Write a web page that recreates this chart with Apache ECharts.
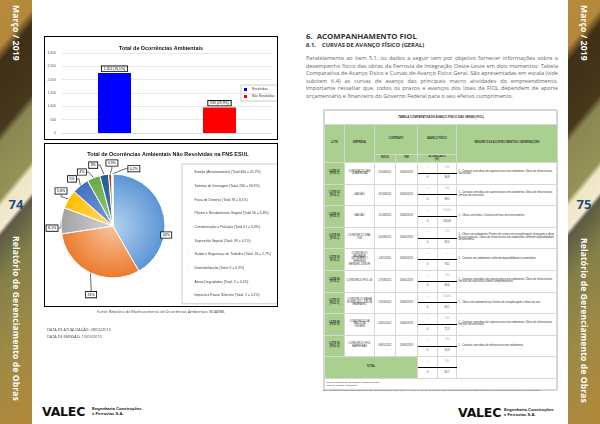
<!DOCTYPE html>
<html><head><meta charset="utf-8">
<script src="https://cdn.jsdelivr.net/npm/echarts@6/dist/echarts.min.js"></script>
<style>
*{box-sizing:border-box;margin:0;padding:0}
html,body{width:600px;height:424px;overflow:hidden;background:#fff;font-family:"Open Sans","Liberation Sans",sans-serif;position:relative}
.abs{position:absolute}
.side{position:absolute;top:0;width:32px;height:424px;overflow:hidden;
 background:linear-gradient(130deg,#b98c3c 0px,#b3883a 30px,#3e2f16 40px,#47381b 85px,#8b8752 92px,#969358 128px,#efe6c6 133px,#f3ead0 148px,#5d5b44 152px,#6b6a45 164px,#858048 182px,#9c8a45 230px,#b3893a 297px)}
.side .vt{position:absolute;left:0;width:32px;writing-mode:vertical-rl;color:#fff;font-weight:bold;font-size:8.6px;display:flex;align-items:center;justify-content:flex-start;letter-spacing:0.1px}
.side .num{position:absolute;left:0;width:32px;text-align:center;color:#1f4e79;font-weight:bold;font-size:13px;font-family:"Open Sans",sans-serif}
.box{position:absolute;border:1.3px solid #000;pointer-events:none}
.tiny{font-size:3.8px;color:#444;line-height:1}
.valec{position:absolute;font-family:"DejaVu Sans","Liberation Sans",sans-serif;font-weight:900;font-size:12.5px;letter-spacing:-0.2px;color:#111;line-height:1}
.valsub{position:absolute;font-family:"Liberation Sans",sans-serif;font-weight:bold;font-size:4.2px;color:#111;line-height:4.6px}
h1{position:absolute;font-size:7.8px;font-weight:bold;color:#333;line-height:1}
h2{position:absolute;font-size:5.8px;font-weight:bold;color:#333;line-height:1}
.para{position:absolute;left:306px;top:55px;width:252px;font-size:5.6px;line-height:7.6px;color:#666;text-align:justify}
table{border-collapse:collapse;table-layout:fixed;font-size:2.6px;line-height:1;color:#333;font-family:"Liberation Sans",sans-serif}
td{border:0.5px solid #d6d6d6;text-align:center;vertical-align:middle;padding:0 0.5px;overflow:hidden}
.g{background:#a9d08e;font-weight:bold}
.top{border-bottom:1.4px solid #000;color:#aaa}
.ob{text-align:left;padding-left:1.5px}
</style></head>
<body>
<script>
// ---------- chart data ----------
const barTitle = 'Total de Ocorrências Ambientais';
const barCategories = ['Resolvidas', 'Não Resolvidas'];
const barValues = [2252, 959];
const barLabels = ['2.252 (70,1%)', '959 (29,9%)'];
const barColors = ['#0000ff', '#ff0000'];
const yTicks = [0, 500, 1000, 1500, 2000, 2500, 3000];

const pieTitle = 'Total de Ocorrências Ambientais Não Resolvidas na FNS ESUL';
const pieNames = ['Erosão (Assoreamento)', 'Sistema de Drenagem', 'Faixa de Domínio', 'Plantio e Recobrimento Vegetal', 'Contaminação e Poluição', 'Supressão Vegetal', 'Saúde e Segurança do Trabalho', 'Desmobilização', 'Áreas Degradadas', 'Impacto à Fauna Silvestre'];
const pieValues = [400, 296, 78, 56, 51, 39, 26, 9, 2, 2];
const pieLegend = ['Erosão (Assoreamento) (Total 400 = 41,7%)', 'Sistema de Drenagem (Total: 296 = 30,9%)', 'Faixa de Domínio (Total 78 = 8,1%)', 'Plantio e Recobrimento Vegetal (Total 56 = 5,8%)', 'Contaminação e Poluição (Total 51 = 5,3%)', 'Supressão Vegetal (Total: 39 = 4,1%)', 'Saúde e Segurança do Trabalho (Total: 26 = 2,7%)', 'Desmobilização (Total: 9 = 0,9%)', 'Áreas Degradadas (Total: 2 = 0,2%)', 'Impacto à Fauna Silvestre (Total: 2 = 0,2%)'];
const pieLabels = ['42%', '31%', '8,1%', '5,8%', '5%', '4%', '3%', '0,9%', '0,2%', ''];
const pieLight = ['#b4d2f0', '#f8c49c', '#d4d4d4', '#ffdb73', '#7d9be0', '#96c978', '#4f82b8', '#c8743a', '#888888', '#c9a227'];
const pieDark = ['#5b95d5', '#ec7a2e', '#a2a2a2', '#ffbf00', '#4570c2', '#6aa944', '#245c90', '#9e480e', '#636363', '#997300'];

// ---------- table data (page 75) ----------
const tLotes = ['LOTE 01<br>(FIOL I)', 'LOTE 02<br>(FIOL I)', 'LOTE 03<br>(FIOL I)', 'LOTE 04<br>(FIOL I)', 'LOTE 05<br>(FIOL I)', 'LOTE 06<br>(FIOL I)', 'LOTE 07<br>(FIOL II)', 'LOTE 08<br>(FIOL II)', 'LOTE 09<br>(FIOL II)'];
const tEmpresas = ['CONSÓRCIO OAS<br>GUARIROBA', 'GALVÃO', 'GALVÃO', 'CONSÓRCIO SPA / TGS', 'CONSÓRCIO ANDRADE<br>GUTIERREZ / SERVENG<br>MENDES JÚNIOR', 'CONSÓRCIO FIOL 06', 'CONSÓRCIO BAHIA<br>NORTE-SUL / DELTA<br>EMBRATEC', 'CONSÓRCIO SA PAULISTA<br>/ FIDENS', 'CONSÓRCIO FIOL<br>BARREIRAS'];
const tInicio = ['05/09/2011', '05/09/2011', '21/09/2011', '05/09/2011', '14/11/2011', '27/09/2011', '15/03/2012', '02/05/2012', '09/05/2012'];
const tFim = ['30/06/2019', '30/06/2019', '30/06/2019', '30/06/2019', '30/06/2019', '30/06/2019', '30/06/2019', '30/06/2019', '30/06/2019'];
const tPrev = ['100', '100', '100,00', '100', '—', '100', '100,00', '100', '100', '100'];
const tReal = ['96,8', '98,5', '100,00', '92,4', '78,2', '84,6', '63,1', '71,3', '55,9', '82,7'];
const tObs = ['1 - Contrato com obras de superestrutura em andamento. Obras de infraestrutura concluídas.', '1 - Contrato com obras de superestrutura em andamento. Obras de infraestrutura em fase de conclusão.', '1 - Obras concluídas. Contrato em fase de encerramento.', '1 - Obras em andamento. Frentes de serviço em terraplenagem, drenagem e obras de arte especiais. Obras de infraestrutura em andamento conforme disponibilidade orçamentária.', '1 - Contrato em andamento conforme disponibilidade orçamentária.', '1 - Contrato com obras de superestrutura em andamento. Obras de infraestrutura em fase de conclusão e obras complementares.', '1 - Obras em andamento nas frentes de terraplenagem e obras de arte.', '1 - Contrato com obras de superestrutura em andamento. Obras de infraestrutura em fase de conclusão.', '1 - Contrato com obras de infraestrutura em andamento.'];

const fmt = v => String(v).replace(/\B(?=(\d{3})+(?!\d))/g, '.');
</script>

<!-- sidebars -->
<div class="side" style="left:0">
  <div class="vt" style="top:5px;height:60px">Março / 2019</div>
  <div class="num" style="top:195px">74</div>
  <div class="vt" style="top:236px;height:180px">Relatório de Gerenciamento de Obras</div>
</div>
<div class="side" style="left:568px">
  <div class="vt" style="top:5px;height:60px">Março / 2019</div>
  <div class="num" style="top:195px">75</div>
  <div class="vt" style="top:238px;height:180px">Relatório de Gerenciamento de Obras</div>
</div>

<!-- left page -->
<div id="bar" class="abs" style="left:44px;top:36px;width:234px;height:104px"></div>
<div class="box" style="left:44px;top:36px;width:234px;height:104px"></div>
<div id="pie" class="abs" style="left:44px;top:143px;width:234px;height:164px"></div>
<div class="box" style="left:44px;top:143px;width:234px;height:164px"></div>
<div class="abs tiny" style="left:44px;top:310px;width:234px;text-align:center">Fonte: Relatório de Monitoramento de Ocorrências Ambientais (SUAMB).</div>
<div class="abs tiny" style="left:47px;top:328px">DATA DE ATUALIZAÇÃO: 28/02/2019</div>
<div class="abs tiny" style="left:47px;top:335px">DATA DE EMISSÃO: 13/03/2019</div>
<div class="valec" style="left:42px;top:406px">VALEC</div>
<div class="valsub" style="left:92px;top:407px">Engenharia Construções<br>e Ferrovias S.A.</div>

<!-- right page -->
<h1 style="left:306px;top:33px">6.&nbsp; ACOMPANHAMENTO FIOL</h1>
<h2 style="left:306px;top:43px">6.1.&nbsp;&nbsp;&nbsp; CURVAS DE AVANÇO FÍSICO (GERAL)</h2>
<div class="para">Paralelamente ao item 5.1, os dados a seguir tem por objetivo fornecer informações sobre o desempenho físico das obras da Ferrovia de Integração Oeste-Leste em dois momentos: Tabela Comparativa de Avanço Físico e Curvas de Avanço Físico Geral. São apresentadas em escala (vide subitem 6.4) as curvas de avanço das principais macro atividades do empreendimento. Importante ressaltar que, todos os prazos e avanços dos lotes da FIOL dependem de aporte orçamentário e financeiro do Governo Federal para o seu efetivo cumprimento.</div>
<div id="tbl" class="abs" style="left:323px;top:109px;width:234px;border:0.6px solid #d6d6d6"></div>
<div class="abs" style="left:323px;top:389px;font-size:2.4px;color:#555;line-height:1">Obs.: os dados apresentados referem-se aos contratos vigentes dos lotes 01, 02, 03, 04, 05, 06, 07 da FIOL, com base nos relatórios de acompanhamento físico das supervisoras e das construtoras.</div>
<div class="valec" style="left:458px;top:407px">VALEC</div>
<div class="valsub" style="left:504px;top:408px">Engenharia Construções<br>e Ferrovias S.A.</div>

<script>
// ---------- table ----------
(function(){
  const rh = 10.8;
  let h = '<table style="width:233px"><colgroup><col style="width:20px"><col style="width:30px"><col style="width:21px"><col style="width:22px"><col style="width:20px"><col style="width:19px"><col style="width:101px"></colgroup>';
  h += '<tr style="height:14px"><td colspan="7" style="font-weight:bold;font-size:2.8px">TABELA COMPARATIVA DE AVANÇO FÍSICO DAS OBRAS (FIOL)</td></tr>';
  h += '<tr style="height:30px"><td class="g" rowspan="2">LOTE</td><td class="g" rowspan="2">EMPRESA</td><td class="g" colspan="2">CONTRATO</td><td class="g" colspan="2">AVANÇO FÍSICO</td><td class="g" rowspan="2">RESUMO DOS ACONTECIMENTOS / OBSERVAÇÕES</td></tr>';
  h += '<tr style="height:8px"><td class="g">INÍCIO</td><td class="g">FIM</td><td class="g" colspan="2">ACUMULADO<br>(%)</td></tr>';
  for (let i = 0; i < tLotes.length; i++) {
    h += `<tr style="height:${rh}px"><td class="g" rowspan="2">${tLotes[i]}</td><td rowspan="2">${tEmpresas[i]}</td><td rowspan="2">${tInicio[i]}</td><td rowspan="2">${tFim[i]}</td><td class="top">—</td><td class="top">${tPrev[i]}</td><td rowspan="2" class="ob">${tObs[i]}</td></tr>`;
    h += `<tr style="height:${rh}px"><td>0</td><td>${tReal[i]}</td></tr>`;
  }
  h += `<tr style="height:${rh}px"><td class="g" colspan="4" rowspan="2">TOTAL</td><td class="top">—</td><td class="top">${tPrev[9]}</td><td rowspan="2"></td></tr>`;
  h += `<tr style="height:${rh}px"><td>0</td><td>${tReal[9]}</td></tr>`;
  h += '<tr style="height:11px"><td colspan="7" class="ob" style="font-size:2.4px;line-height:1.3">Data de atualização: 28/02/2019 (dados mensais)<br>Data de emissão: 13/03/2019</td></tr>';
  h += '</table>';
  document.getElementById('tbl').innerHTML = h;
})();

// ---------- bar chart ----------
const bar = echarts.init(document.getElementById('bar'), null, {renderer:'canvas'});
bar.setOption({
  animation:false,
  textStyle:{fontFamily:'Liberation Sans'},
  title:{text:barTitle,left:'center',top:5,textStyle:{fontSize:5.4,fontWeight:'bold',color:'#111',fontFamily:'Liberation Sans'}},
  legend:{orient:'vertical',left:197,top:49,itemGap:4,itemWidth:3,itemHeight:3,icon:'rect',
    borderColor:'#bfbfbf',borderWidth:0.8,padding:[3,3,3,3],
    textStyle:{fontSize:3.2,color:'#404040'},data:barCategories},
  grid:{left:18,right:6,top:17,bottom:7},
  xAxis:{type:'category',data:barCategories,axisLine:{lineStyle:{color:'#d9d9d9',width:0.6}},axisTick:{show:false},axisLabel:{show:false}},
  yAxis:{type:'value',min:yTicks[0],max:yTicks[yTicks.length-1],interval:500,
    axisLabel:{fontSize:3.4,color:'#595959',margin:6,formatter:v=>fmt(v)},
    splitLine:{lineStyle:{color:'#d9d9d9',width:0.6}},axisLine:{show:false},axisTick:{show:false}},
  series: barCategories.map((name,i)=>({
    name, type:'bar', stack:'t', barWidth:33,
    itemStyle:{color:barColors[i]},
    data: barCategories.map((c,j)=> j===i ? barValues[i] : '-'),
    label:{show:true,position:'top',distance:2,formatter:()=>barLabels[i],fontSize:3.4,color:'#000',
      backgroundColor:'#fff',borderColor:'#000',borderWidth:0.9,padding:[1,2,0.5,2]}
  }))
});

// ---------- pie chart ----------
const pie = echarts.init(document.getElementById('pie'), null, {renderer:'canvas'});
const cx = 69, cy = 83, R = 52;
// label placement (angle clockwise from 12 o'clock, distance from centre) — layout only
const labelPlace = [[99.6,54],[197.7,72],[268,61],[304,62.7],[319,62.4],[330,62.3],[342,64],[359,63],[20,61]];
pie.setOption({
  animation:false,
  textStyle:{fontFamily:'Liberation Sans'},
  title:{text:pieTitle,left:119,textAlign:'center',top:4,textStyle:{fontSize:5.4,fontWeight:'bold',color:'#111',fontFamily:'Liberation Sans'}},
  legend:{orient:'vertical',left:138,top:21,itemGap:9.2,itemWidth:2.5,itemHeight:2.5,icon:'circle',
    borderColor:'#bfbfbf',borderWidth:0.8,padding:[6,22,6,4],
    textStyle:{fontSize:3.4,color:'#404040',lineHeight:4},
    formatter: n => pieLegend[pieNames.indexOf(n)]},
  series:[{
    type:'pie', center:[cx,cy], radius:R, startAngle:90, clockwise:true,
    avoidLabelOverlap:false,
    itemStyle:{borderColor:'#fff',borderWidth:1},
    label:{show:true,position:'outside',formatter:p=>pieLabels[p.dataIndex],fontSize:3.6,color:'#000',
      backgroundColor:'#fff',borderColor:'#000',borderWidth:0.8,padding:[1,1.5,0.5,1.5]},
    labelLine:{show:true,length:4,length2:2,lineStyle:{color:'#000',width:0.6}},
    labelLayout:p=>{
      const pl = labelPlace[p.dataIndex];
      if (!pl) return {};
      const a = pl[0]*Math.PI/180;
      return {x: cx + pl[1]*Math.sin(a), y: cy - pl[1]*Math.cos(a), align:'center', verticalAlign:'middle'};
    },
    data: pieNames.map((n,i)=>({
      name:n, value:pieValues[i],
      itemStyle:{color:{type:'radial',x:cx,y:cy,r:R,global:true,colorStops:[{offset:0,color:pieLight[i]},{offset:1,color:pieDark[i]}]}},
      label: i===9 ? {show:false} : undefined,
      labelLine: (i===0 || i===9) ? {show:false} : undefined
    }))
  }]
});
</script>
</body></html>
